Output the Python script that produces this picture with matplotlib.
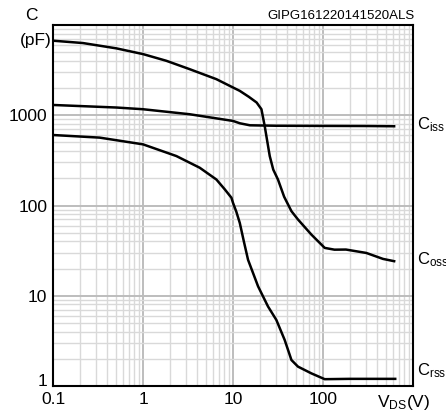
import matplotlib
matplotlib.use('Agg')
import matplotlib.pyplot as plt
from matplotlib.ticker import LogLocator, NullFormatter, FixedLocator
import matplotlib.transforms as mtransforms

plt.rcParams['font.family'] = ['Liberation Sans', 'DejaVu Sans']

# curve that starts highest and falls to the Coss end
coss_v = [0.1, 0.215, 0.506, 1.0, 1.82, 3.3, 6.54, 10, 11.9, 15, 18.3, 20.7,
          22.5, 25.6, 28, 31.6, 37, 44.6, 52.7, 74.3, 104.5, 134, 180, 303,
          464, 637]
coss_c = [6700, 6310, 5510, 4760, 4010, 3240, 2510, 2030, 1862, 1600, 1384,
          1166, 760, 353, 250, 194, 125, 86.5, 70, 47.6, 33.9, 32.4, 32.5,
          29.8, 25.6, 24]

ciss_v = [0.1, 0.506, 1.0, 3.3, 10, 11.9, 15.4, 30, 100, 300, 637]
ciss_c = [1300, 1218, 1166, 1026, 865, 815, 774, 765, 762, 760, 755]

crss_v = [0.1, 0.33, 1.0, 2.35, 4.27, 6.54, 8.1, 9.6, 10, 10.9, 11.9, 13.2,
          14.7, 19, 24.5, 30.3, 37.5, 44.6, 52.7, 74.3, 104.5, 198, 655]
crss_c = [604, 565, 476, 353, 262, 194, 151, 122, 107, 85, 64, 40,
          25, 12.7, 7.6, 5.4, 3.24, 1.94, 1.64, 1.38, 1.19, 1.2, 1.2]

x_ticks = [0.1, 1, 10, 100]
x_labels = ['0.1', '1', '10', '100']
y_ticks = [1, 10, 100, 1000]
y_labels = ['1', '10', '100', '1000']

fig = plt.figure(figsize=(4.46, 4.16), dpi=100)
ax = fig.add_axes([53 / 446, 1 - 386 / 416, 360 / 446, 361 / 416])
ax.set_xscale('log')
ax.set_yscale('log')
ax.set_xlim(0.1, 1000)
ax.set_ylim(1, 10000)

ax.xaxis.set_minor_locator(LogLocator(base=10, subs=range(2, 10)))
ax.yaxis.set_minor_locator(LogLocator(base=10, subs=range(2, 10)))
ax.xaxis.set_minor_formatter(NullFormatter())
ax.yaxis.set_minor_formatter(NullFormatter())
ax.grid(which='minor', color='#d9d9d9', lw=1.0)
ax.grid(which='major', color='#bdbdbd', lw=1.4)
ax.set_axisbelow(True)

ax.xaxis.set_major_locator(FixedLocator(x_ticks + [1000]))
ax.set_xticklabels(x_labels + [''])
ax.yaxis.set_major_locator(FixedLocator(y_ticks + [10000]))
ax.set_yticklabels(y_labels + [''])
ax.tick_params(which='both', length=0, labelsize=12.5, pad=4)

# the "1" label sits a little above the bottom edge in the original
lab = ax.get_yticklabels()[0]
lab.set_transform(lab.get_transform() +
                  mtransforms.ScaledTranslation(0, 6 / 100, fig.dpi_scale_trans))

for s in ax.spines.values():
    s.set_linewidth(1.5)
    s.set_color('black')

for v, c in [(coss_v, coss_c), (ciss_v, ciss_c), (crss_v, crss_c)]:
    ax.plot(v, c, color='black', lw=1.8, solid_capstyle='butt',
            solid_joinstyle='round')

trans = mtransforms.blended_transform_factory(ax.transAxes, ax.transData)
ax.text(1.01, 790, r'$\mathregular{C_{iss}}$', transform=trans, fontsize=12,
        ha='left', va='center')
ax.text(1.01, 25, r'$\mathregular{C_{oss}}$', transform=trans, fontsize=12,
        ha='left', va='center')
ax.text(1.01, 1.48, r'$\mathregular{C_{rss}}$', transform=trans, fontsize=12,
        ha='left', va='center')

fig.text(404 / 446, 1 - 402 / 416, r'$\mathregular{V_{DS}(V)}$', fontsize=12.5,
         ha='center', va='center')
fig.text(31 / 446, 1 - 15 / 416, 'C', fontsize=12.5, ha='center', va='center')
fig.text(52 / 446, 1 - 41 / 416, '(pF)', fontsize=12.5, ha='right', va='center')
fig.text(415 / 446, 1 - 16 / 416, 'GIPG161220141520ALS', fontsize=9.5,
         ha='right', va='center')

fig.savefig('out.png', dpi=100)
